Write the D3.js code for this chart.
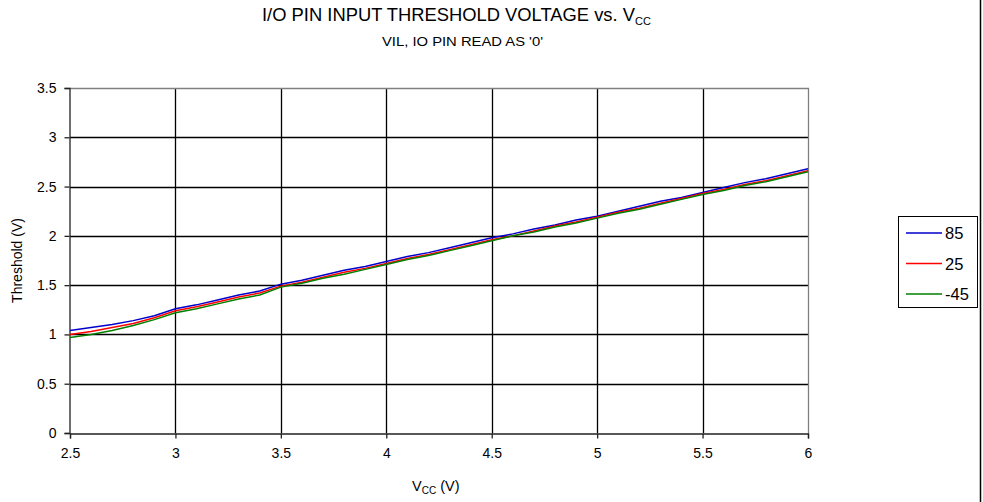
<!DOCTYPE html>
<html>
<head>
<meta charset="utf-8">
<script src="https://cdn.jsdelivr.net/npm/d3@7"></script>
<style>
  html, body { margin: 0; padding: 0; background: #fff; }
  svg { display: block; font-family: "Liberation Sans", Arial, sans-serif; }
</style>
</head>
<body>
<svg id="chart" width="983" height="502"></svg>
<script>
// ---- data ----
const vcc = [2.5, 2.6, 2.7, 2.8, 2.9, 3.0, 3.1, 3.2, 3.3, 3.4, 3.5, 3.6, 3.7, 3.8, 3.9,
             4.0, 4.1, 4.2, 4.3, 4.4, 4.5, 4.6, 4.7, 4.8, 4.9, 5.0, 5.1, 5.2, 5.3, 5.4,
             5.5, 5.6, 5.7, 5.8, 5.9, 6.0];
const t85 = [1.04, 1.07, 1.10, 1.14, 1.19, 1.26, 1.30, 1.35, 1.40, 1.44, 1.51, 1.55, 1.60, 1.65, 1.69,
             1.74, 1.79, 1.83, 1.88, 1.93, 1.98, 2.02, 2.07, 2.11, 2.16, 2.20, 2.25, 2.30, 2.35, 2.39,
             2.44, 2.49, 2.54, 2.58, 2.63, 2.68];
const t25 = [1.00, 1.03, 1.07, 1.11, 1.17, 1.24, 1.28, 1.33, 1.38, 1.42, 1.49, 1.53, 1.58, 1.63, 1.67,
             1.72, 1.77, 1.81, 1.86, 1.91, 1.96, 2.00, 2.05, 2.10, 2.14, 2.19, 2.24, 2.28, 2.33, 2.38,
             2.43, 2.47, 2.52, 2.56, 2.61, 2.66];
const tm45 = [0.97, 1.00, 1.04, 1.09, 1.15, 1.22, 1.26, 1.31, 1.36, 1.40, 1.48, 1.52, 1.57, 1.61, 1.66,
              1.71, 1.76, 1.80, 1.85, 1.90, 1.95, 2.00, 2.04, 2.09, 2.13, 2.18, 2.23, 2.27, 2.32, 2.37,
              2.42, 2.46, 2.51, 2.55, 2.60, 2.65];
const seriesNames = ["85", "25", "-45"];
const seriesColors = ["#0000cc", "#ff0000", "#008000"];
const xTicks = [2.5, 3, 3.5, 4, 4.5, 5, 5.5, 6];
const yTicks = [0, 0.5, 1, 1.5, 2, 2.5, 3, 3.5];

const series = [t85, t25, tm45].map((vals, i) => ({
  name: seriesNames[i], color: seriesColors[i],
  points: vcc.map((v, j) => [v, vals[j]])
}));

// ---- layout ----
const svg = d3.select("#chart");
const L = 70, R = 808, T = 88, B = 433;
const x = d3.scaleLinear().domain([2.5, 6]).range([L, R]);
const y = d3.scaleLinear().domain([0, 3.5]).range([B, T]);

// grid
const g = svg.append("g");
g.selectAll("line.hg").data(yTicks.filter(d => d > 0 && d < 3.5)).enter().append("line")
  .attr("x1", L).attr("x2", R).attr("y1", d => Math.round(y(d)) + 0.5).attr("y2", d => Math.round(y(d)) + 0.5)
  .attr("stroke", "#000").attr("stroke-width", 1.3);
g.selectAll("line.vg").data(xTicks.filter(d => d > 2.5 && d < 6)).enter().append("line")
  .attr("y1", T).attr("y2", B).attr("x1", d => Math.round(x(d)) + 0.5).attr("x2", d => Math.round(x(d)) + 0.5)
  .attr("stroke", "#000").attr("stroke-width", 1.3);

// plot border top/right (gray)
svg.append("path")
  .attr("d", `M${L},${T + 0.5}H${R + 0.5}V${B}`)
  .attr("fill", "none").attr("stroke", "#808080").attr("stroke-width", 1.3);

// axes
const xAxis = d3.axisBottom(x).tickValues(xTicks).tickSize(5).tickPadding(10)
  .tickFormat(d3.format("~g"));
const yAxis = d3.axisLeft(y).tickValues(yTicks).tickSize(5).tickPadding(8)
  .tickFormat(d3.format("~g"));
const gx = svg.append("g").attr("transform", `translate(0,${B + 0.5})`).call(xAxis);
const gy = svg.append("g").attr("transform", `translate(${L - 0.5},0)`).call(yAxis);
[gx, gy].forEach(a => {
  a.select(".domain").attr("stroke", "#222").attr("stroke-width", 1.3);
  a.selectAll(".tick line").attr("stroke", "#222").attr("stroke-width", 1.3);
  a.selectAll(".tick text").attr("fill", "#000").attr("font-size", 14)
    .attr("font-family", "Liberation Sans, Arial, sans-serif");
});

// lines
const line = d3.line().x(d => x(d[0])).y(d => y(d[1]));
svg.append("g").selectAll("path").data(series).enter().append("path")
  .attr("d", d => line(d.points)).attr("fill", "none")
  .attr("stroke", d => d.color).attr("stroke-width", 1.5);

// title
const title = svg.append("text").attr("x", 262).attr("y", 21)
  .attr("font-size", 17.5).attr("fill", "#000");
title.append("tspan").attr("textLength", 373).attr("lengthAdjust", "spacingAndGlyphs")
  .text("I/O PIN INPUT THRESHOLD VOLTAGE vs. V");
title.append("tspan").attr("font-size", 11).attr("dy", 4).text("CC");

svg.append("text").attr("x", 382).attr("y", 46)
  .attr("font-size", 13.5).attr("fill", "#000")
  .attr("textLength", 161).attr("lengthAdjust", "spacingAndGlyphs")
  .text("VIL, IO PIN READ AS '0'");

// axis titles
const xt = svg.append("text").attr("x", 412).attr("y", 491)
  .attr("font-size", 14.5).attr("fill", "#000");
xt.append("tspan").text("V");
xt.append("tspan").attr("font-size", 10).attr("dy", 3).text("CC");
xt.append("tspan").attr("dy", -3).text(" (V)");

svg.append("text").attr("transform", `translate(22,${(T + B) / 2}) rotate(-90)`)
  .attr("text-anchor", "middle").attr("font-size", 14).attr("fill", "#000")
  .text("Threshold (V)");

// legend
const lg = svg.append("g");
lg.append("rect").attr("x", 898.5).attr("y", 216.5).attr("width", 79).attr("height", 91)
  .attr("fill", "#fff").attr("stroke", "#000").attr("stroke-width", 1);
const ly = d3.scalePoint().domain(seriesNames).range([233, 294]);
const items = lg.selectAll("g.item").data(series).enter().append("g")
  .attr("transform", d => `translate(0,${ly(d.name)})`);
items.append("line").attr("x1", 906).attr("x2", 942).attr("y1", 0).attr("y2", 0)
  .attr("stroke", d => d.color).attr("stroke-width", 1.5);
items.append("text").attr("x", 945).attr("y", 6).attr("font-size", 16.5).attr("fill", "#000")
  .text(d => d.name);

// outer border (right edge)
svg.append("line").attr("x1", 980.5).attr("x2", 980.5).attr("y1", 0).attr("y2", 502)
  .attr("stroke", "#000").attr("stroke-width", 1.5);
</script>
</body>
</html>
